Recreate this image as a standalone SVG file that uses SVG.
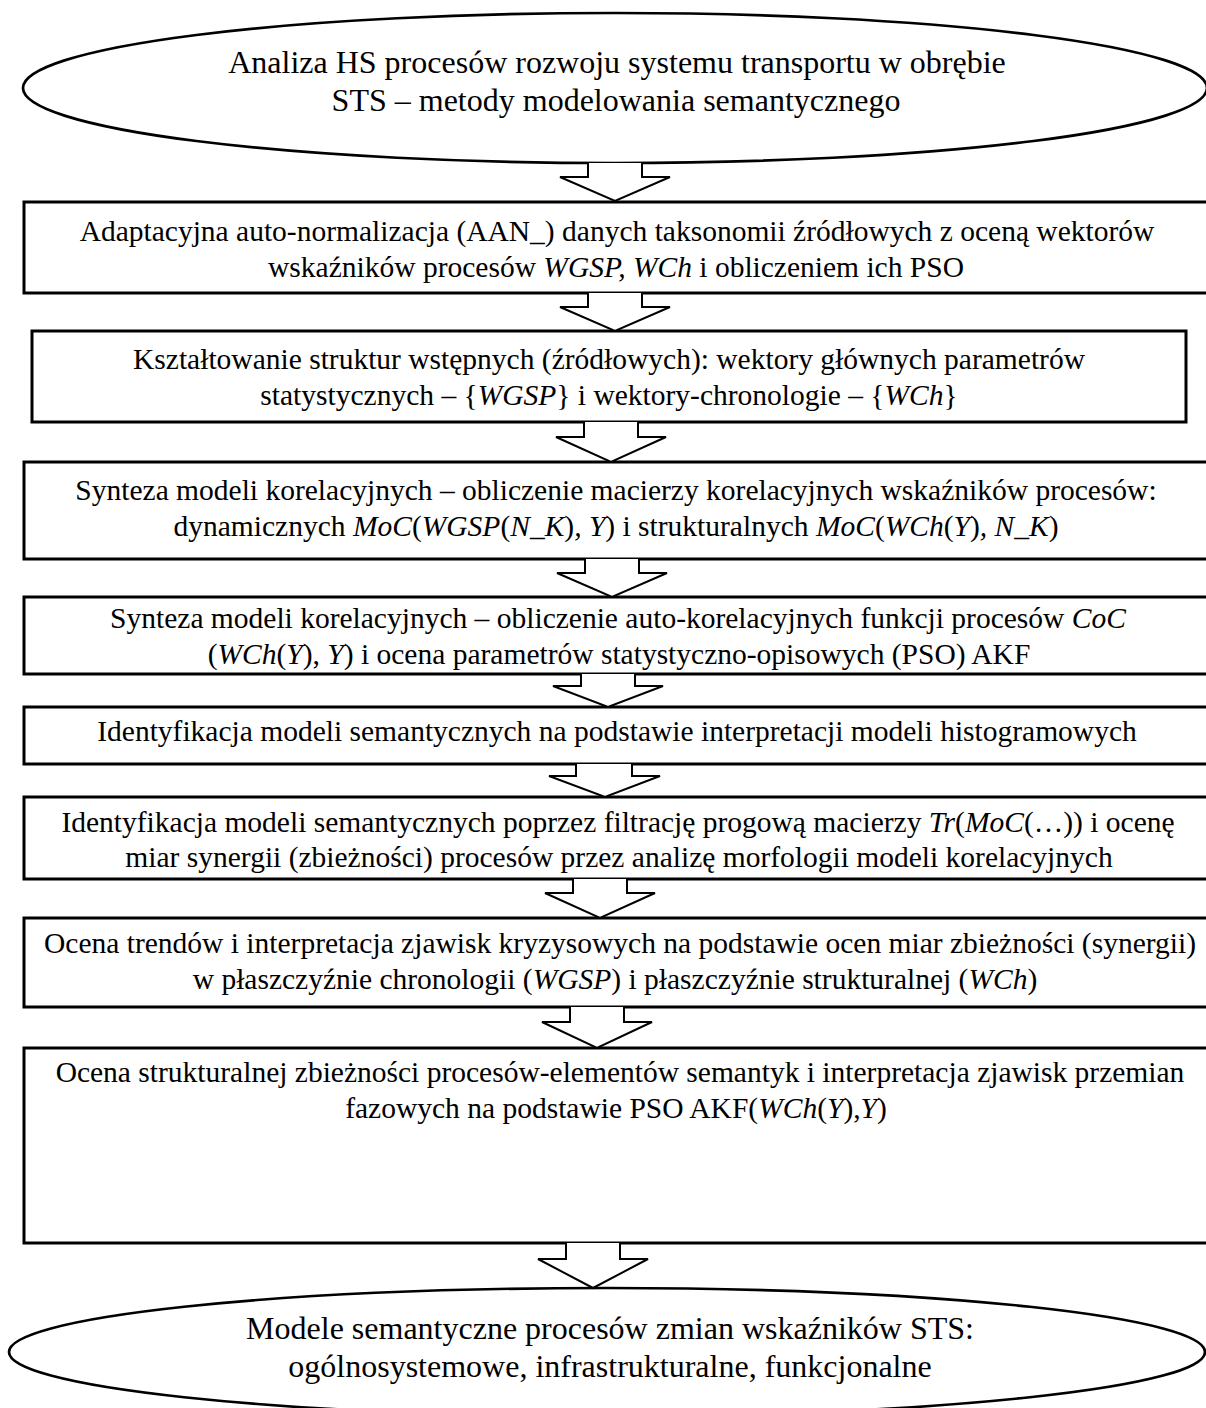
<svg xmlns="http://www.w3.org/2000/svg" width="1206" height="1408" viewBox="0 0 1206 1408" font-family="'Liberation Serif', 'Times New Roman', serif">
<style>
.box{fill:#fff;stroke:#000;stroke-width:3}
.ell{fill:#fff;stroke:#000;stroke-width:2.7}
.arr{fill:#fff;stroke:#000;stroke-width:2;stroke-linejoin:miter}
text{font-family:'Liberation Serif','Times New Roman',serif;fill:#000;text-anchor:middle}
.t{font-size:29.5px}
.e{font-size:32px}
.i{font-style:italic}
</style>
<rect width="1206" height="1408" fill="#fff"/>
<g id="start">
<ellipse class="ell" cx="615" cy="88" rx="592" ry="75"/>
<text class="e" x="617" y="73">Analiza HS procesów rozwoju systemu transportu w obrębie</text>
<text class="e" x="616" y="111">STS – metody modelowania semantycznego</text>
</g>
<g id="n1">
<rect class="box" x="24" y="202" width="1184" height="91"/>
<text class="t" x="617" y="241">Adaptacyjna auto-normalizacja (AAN_) danych taksonomii źródłowych z oceną wektorów</text>
<text class="t" x="616" y="277">wskaźników procesów <tspan class="i">WGSP, WCh</tspan> i obliczeniem ich PSO</text>
</g>
<g id="n2">
<rect class="box" x="32" y="331" width="1154" height="91"/>
<text class="t" x="609" y="369">Kształtowanie struktur wstępnych (źródłowych): wektory głównych parametrów</text>
<text class="t" x="609" y="405">statystycznych – {<tspan class="i">WGSP</tspan>} i wektory-chronologie – {<tspan class="i">WCh</tspan>}</text>
</g>
<g id="n3">
<rect class="box" x="24" y="462" width="1184" height="97"/>
<text class="t" x="616" y="500">Synteza modeli korelacyjnych – obliczenie macierzy korelacyjnych wskaźników procesów:</text>
<text class="t" x="616" y="536">dynamicznych <tspan class="i">MoC</tspan>(<tspan class="i">WGSP</tspan>(<tspan class="i">N_K</tspan>)<tspan class="i">, Y</tspan>) i strukturalnych <tspan class="i">MoC</tspan>(<tspan class="i">WCh</tspan>(<tspan class="i">Y</tspan>)<tspan class="i">, N_K</tspan>)</text>
</g>
<g id="n4">
<rect class="box" x="24" y="597" width="1184" height="77"/>
<text class="t" x="618" y="628">Synteza modeli korelacyjnych – obliczenie auto-korelacyjnych funkcji procesów <tspan class="i">CoC</tspan></text>
<text class="t" x="619" y="664">(<tspan class="i">WCh</tspan>(<tspan class="i">Y</tspan>), <tspan class="i">Y</tspan>) i ocena parametrów statystyczno-opisowych (PSO) AKF</text>
</g>
<g id="n5">
<rect class="box" x="24" y="707" width="1184" height="57"/>
<text class="t" x="617" y="741">Identyfikacja modeli semantycznych na podstawie interpretacji modeli histogramowych</text>
</g>
<g id="n6">
<rect class="box" x="24" y="797" width="1184" height="82"/>
<text class="t" x="618" y="832">Identyfikacja modeli semantycznych poprzez filtrację progową macierzy <tspan class="i">Tr</tspan>(<tspan class="i">MoC</tspan>(…)) i ocenę</text>
<text class="t" x="619" y="867">miar synergii (zbieżności) procesów przez analizę morfologii modeli korelacyjnych</text>
</g>
<g id="n7">
<rect class="box" x="24" y="918" width="1184" height="89"/>
<text class="t" x="620" y="953">Ocena trendów i interpretacja zjawisk kryzysowych na podstawie ocen miar zbieżności (synergii)</text>
<text class="t" x="615" y="989">w płaszczyźnie chronologii (<tspan class="i">WGSP</tspan>) i płaszczyźnie strukturalnej (<tspan class="i">WCh</tspan>)</text>
</g>
<g id="n8">
<rect class="box" x="24" y="1048" width="1184" height="195"/>
<text class="t" x="620" y="1082">Ocena strukturalnej zbieżności procesów-elementów semantyk i interpretacja zjawisk przemian</text>
<text class="t" x="616" y="1118">fazowych na podstawie PSO AKF(<tspan class="i">WCh</tspan>(<tspan class="i">Y</tspan>),<tspan class="i">Y</tspan>)</text>
</g>
<g id="end">
<ellipse class="ell" cx="607" cy="1352" rx="598" ry="64"/>
<text class="e" x="610" y="1339">Modele semantyczne procesów zmian wskaźników STS:</text>
<text class="e" x="610" y="1377">ogólnosystemowe, infrastrukturalne, funkcjonalne</text>
</g>
<g id="connectors">
<path class="arr" d="M588,163 V177 H560 L615,201 L670,177 H642 V163"/>
<path class="arr" d="M588,293 V307 H560 L615,331 L670,307 H642 V293"/>
<path class="arr" d="M584,422 V437 H556 L611,462 L666,437 H638 V422"/>
<path class="arr" d="M585,559 V573 H557 L612,597 L667,573 H639 V559"/>
<path class="arr" d="M581,674 V686 H553 L608,707 L663,686 H635 V674"/>
<path class="arr" d="M576,764 V776 H549 L605,797 L660,776 H632 V764"/>
<path class="arr" d="M573,879 V893 H545 L600,918 L655,893 H627 V879"/>
<path class="arr" d="M570,1007 V1022 H542 L597,1048 L652,1022 H624 V1007"/>
<path class="arr" d="M566,1243 V1259 H538 L593,1288 L648,1259 H620 V1243"/>
</g>
</svg>
